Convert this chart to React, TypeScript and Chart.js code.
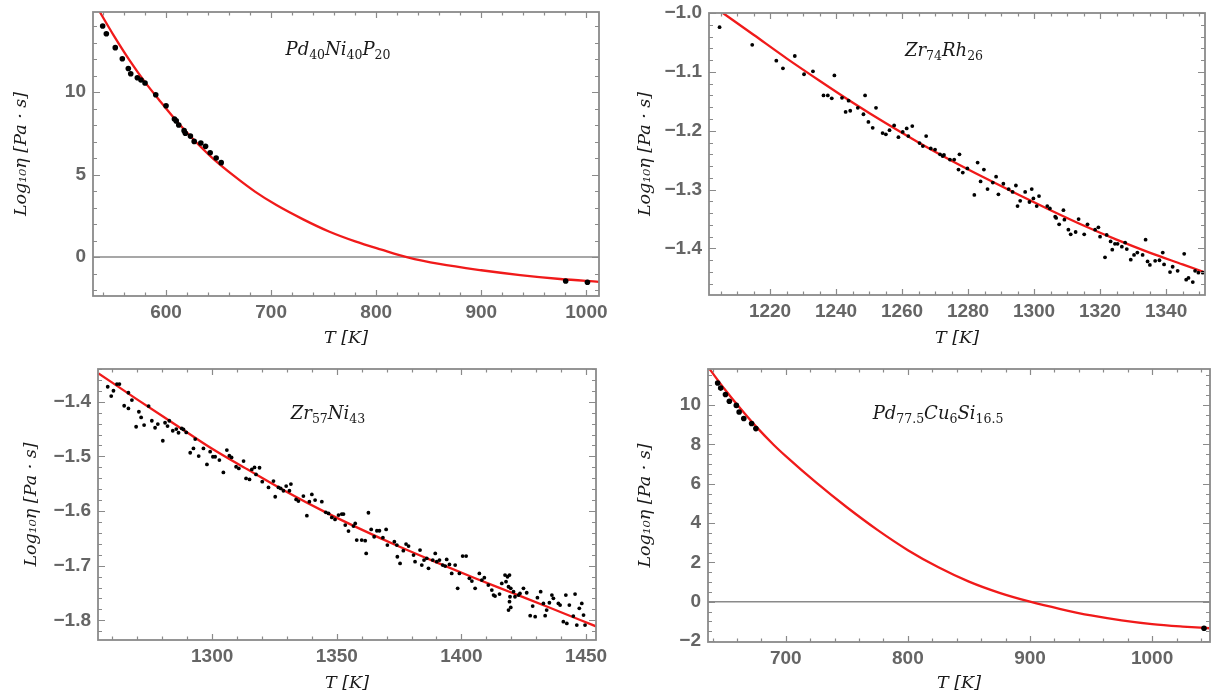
import React, { useEffect, useRef } from 'react';
import { Chart, registerables } from 'chart.js';

Chart.register(...registerables);

// ---------------- Panel 1: Pd40Ni40P20 ----------------
const P1_T = [539.7, 543.2, 551.7, 558.4, 564.1, 566.4, 572.7, 576.2, 580.0, 590.2, 600.0, 608.0, 609.7, 612.1, 617.2, 618.4, 623.2, 626.8, 633.1, 637.6, 642.0, 647.7, 652.5, 980.3, 1001.0];
const P1_LOGETA = [14.0, 13.53, 12.69, 12.02, 11.43, 11.11, 10.87, 10.73, 10.55, 9.84, 9.17, 8.36, 8.25, 8.0, 7.66, 7.5, 7.33, 7.01, 6.91, 6.71, 6.32, 6.0, 5.72, -1.45, -1.53];
const P1_FIT_T = [537, 550, 565, 580, 595, 610, 625, 645, 665, 685, 705, 730, 755, 780, 805, 830, 860, 900, 937, 975, 1012];
const P1_FIT_LOGETA = [14.85, 13.45, 11.95, 10.6, 9.4, 8.25, 7.2, 5.95, 4.9, 3.95, 3.15, 2.3, 1.55, 0.95, 0.45, -0.02, -0.42, -0.8, -1.09, -1.33, -1.5];
const P1_X_TICKS = [600, 700, 800, 900, 1000];
const P1_Y_TICKS = [0, 5, 10];

// ---------------- Panel 2: Zr74Rh26 ----------------
const P2_T = [1204.7, 1214.6, 1221.9, 1223.9, 1227.5, 1230.3, 1233.0, 1236.2, 1237.5, 1238.7, 1239.5, 1241.8, 1242.9, 1243.8, 1244.3, 1246.6, 1248.3, 1248.8, 1249.8, 1251.1, 1252.1,
  1254.1, 1255.1, 1256.2, 1257.6, 1258.9, 1260.2, 1261.4, 1261.9, 1263.1, 1265.3, 1266.3, 1267.3, 1268.7, 1270.0, 1271.5, 1272.7, 1272.3, 1274.5, 1275.8, 1277.4, 1277.1, 1278.4, 1279.8,
  1281.9, 1282.9, 1283.8, 1284.8, 1285.9, 1287.5, 1288.5, 1289.2, 1290.7, 1292.3, 1293.5, 1294.5, 1295.0, 1295.8, 1297.3, 1298.6, 1299.3, 1299.8, 1301.5, 1300.8, 1304.0, 1304.8,
  1306.4, 1306.7, 1307.6, 1308.9, 1309.2, 1310.4, 1311.1, 1312.6, 1313.5, 1315.2, 1316.2, 1318.5, 1319.5, 1320.0, 1321.5, 1322.0, 1323.2, 1323.7, 1324.5, 1325.3, 1326.6, 1327.6,
  1328.1, 1329.3, 1330.3, 1331.3, 1332.9, 1333.8, 1334.4, 1335.1, 1336.7, 1338.0, 1339.0, 1339.4, 1341.2, 1342.0, 1343.5, 1345.5, 1346.1, 1346.8, 1348.1, 1348.8, 1349.8, 1351.1];
const P2_LOGETA = [-1.024, -1.054, -1.081, -1.094, -1.073, -1.104, -1.099, -1.140, -1.140, -1.145, -1.106, -1.144, -1.168, -1.149, -1.166, -1.161, -1.172, -1.140, -1.185, -1.195, -1.161,
  -1.204, -1.206, -1.199, -1.191, -1.211, -1.202, -1.196, -1.209, -1.192, -1.221, -1.226, -1.209, -1.230, -1.232, -1.240, -1.241, -1.243, -1.249, -1.249, -1.240, -1.266, -1.271, -1.264,
  -1.309, -1.254, -1.286, -1.266, -1.299, -1.288, -1.278, -1.308, -1.290, -1.299, -1.304, -1.293, -1.328, -1.319, -1.304, -1.321, -1.299, -1.315, -1.311, -1.328, -1.328, -1.332,
  -1.346, -1.348, -1.359, -1.335, -1.351, -1.368, -1.376, -1.372, -1.350, -1.376, -1.359, -1.368, -1.364, -1.380, -1.415, -1.377, -1.388, -1.402, -1.392, -1.392, -1.397, -1.390,
  -1.401, -1.419, -1.411, -1.407, -1.411, -1.385, -1.422, -1.428, -1.421, -1.420, -1.407, -1.427, -1.440, -1.431, -1.438, -1.409, -1.453, -1.450, -1.457, -1.438, -1.441, -1.441];
const P2_FIT_T = [1205.7, 1215, 1225, 1235, 1245, 1255, 1265, 1275, 1285, 1295, 1305, 1315, 1325, 1335, 1345, 1352];
const P2_FIT_LOGETA = [-1.0, -1.037, -1.077, -1.115, -1.152, -1.187, -1.22, -1.251, -1.28, -1.308, -1.335, -1.361, -1.385, -1.407, -1.427, -1.441];
const P2_X_TICKS = [1220, 1240, 1260, 1280, 1300, 1320, 1340];
const P2_Y_TICKS = [-1.4, -1.3, -1.2, -1.1, -1.0];

// ---------------- Panel 3: Zr57Ni43 ----------------
const P3_T = [1258.1, 1259.5, 1260.4, 1261.8, 1262.8, 1264.7, 1266.4, 1266.4, 1267.8, 1269.5, 1270.6, 1271.5, 1272.7, 1274.5, 1275.8, 1277.1, 1278.2, 1280.2, 1281.1, 1282.1, 1282.8,
  1284.2, 1285.6, 1286.5, 1287.8, 1288.5, 1289.6, 1291.2, 1292.5, 1293.2, 1294.6, 1296.5, 1297.9, 1299.2, 1300.3, 1301.2, 1302.9, 1304.5, 1305.9, 1306.9, 1307.8, 1309.6, 1310.7,
  1312.6, 1313.6, 1315.0, 1315.9, 1317.0, 1317.6, 1319.0, 1320.1, 1322.6, 1324.6, 1325.3, 1326.6, 1327.5, 1328.6, 1329.7, 1331.0, 1331.6, 1333.7, 1334.6, 1336.6, 1338.0, 1339.0,
  1340.0, 1341.3, 1344.0, 1345.6, 1346.7, 1348.0, 1349.3, 1350.7, 1352.0, 1352.7,
  1353.4, 1354.7, 1356.7, 1357.4, 1358.0, 1360.0, 1361.4, 1361.8, 1362.7, 1363.8, 1365.0, 1366.1, 1367.1, 1368.5, 1369.8, 1370.3, 1373.1, 1374.1, 1374.3, 1375.4, 1376.7, 1377.8,
  1378.8, 1380.8, 1381.4, 1383.4, 1384.1, 1385.0, 1386.1, 1386.8, 1388.5, 1389.5, 1390.1, 1391.2, 1392.5, 1393.5, 1394.1, 1395.2, 1396.1, 1397.5, 1398.5, 1399.2, 1400.5, 1401.9,
  1403.2, 1404.2, 1405.5, 1407.2, 1408.2, 1409.2, 1410.8, 1412.2, 1412.9, 1413.5, 1415.3, 1416.2, 1417.5, 1417.9, 1418.5, 1418.9, 1419.3, 1419.8, 1419.5, 1419.3, 1418.9, 1419.8,
  1420.9, 1421.5, 1422.9, 1423.5, 1424.9, 1426.2, 1427.6, 1428.6, 1429.6, 1430.5, 1431.8, 1432.9, 1433.6, 1434.2, 1435.3, 1436.3, 1436.9, 1438.9, 1439.6, 1440.9, 1441.9, 1442.3,
  1443.3, 1444.9, 1445.6, 1446.3, 1447.3, 1448.3, 1449.0, 1449.6];
const P3_LOGETA = [-1.3725, -1.3896, -1.3798, -1.3676, -1.3676, -1.4073, -1.4121, -1.3835, -1.3969, -1.4457, -1.4182, -1.4286, -1.4426, -1.4079, -1.4347, -1.4475, -1.4408, -1.4713, -1.4384, -1.4445, -1.4347,
  -1.453, -1.45, -1.4567, -1.4487, -1.4506, -1.4561, -1.4933, -1.4853, -1.4683, -1.4994, -1.4853, -1.5146, -1.4914, -1.5006, -1.5006, -1.5067, -1.5293, -1.4884, -1.4988, -1.5018, -1.5189, -1.5219,
  -1.5085, -1.5402, -1.5421, -1.5238, -1.5201, -1.5329, -1.5207, -1.5463, -1.5567, -1.5451, -1.5738, -1.5567, -1.5585, -1.5628, -1.5543, -1.5628, -1.5506, -1.5787, -1.5817, -1.5726, -1.6085, -1.5829,
  -1.5695, -1.5799, -1.5829, -1.6024, -1.6043, -1.6116, -1.6153, -1.6073, -1.6055, -1.6055,
  -1.6256, -1.6366, -1.6275, -1.6226, -1.6531, -1.6531, -1.6543, -1.6775, -1.6031, -1.6336, -1.647, -1.636, -1.636, -1.6488, -1.6336, -1.6622, -1.6561, -1.6622, -1.6836, -1.6958, -1.6726, -1.6604,
  -1.6641, -1.6805, -1.6927, -1.6714, -1.6988, -1.6897, -1.6866, -1.7049, -1.6897, -1.6775, -1.6927, -1.6897, -1.6988, -1.7007, -1.6885, -1.6976, -1.7141, -1.6988, -1.7415, -1.7141, -1.6824, -1.6824,
  -1.7232, -1.7281, -1.7415, -1.7141, -1.7263, -1.722, -1.7354, -1.7446, -1.7537, -1.7556, -1.7519, -1.7324, -1.7171, -1.7293, -1.7202, -1.7385, -1.7171, -1.7415, -1.7568, -1.7659, -1.7812, -1.7763,
  -1.7476, -1.7568, -1.7537, -1.7507, -1.7415, -1.7495, -1.7915, -1.7739, -1.7934, -1.7586, -1.7476, -1.769, -1.7915, -1.7812, -1.7678, -1.7537, -1.7598, -1.769, -1.772, -1.8025, -1.7537, -1.8056,
  -1.772, -1.7922, -1.7519, -1.8086, -1.7781, -1.769, -1.7903, -1.8086];
const P3_FIT_T = [1254.4, 1270, 1285, 1300, 1315, 1330, 1345, 1360, 1375, 1390, 1405, 1420, 1435, 1454];
const P3_FIT_LOGETA = [-1.348, -1.396, -1.441, -1.486, -1.526, -1.565, -1.601, -1.634, -1.665, -1.694, -1.722, -1.749, -1.776, -1.811];
const P3_X_TICKS = [1300, 1350, 1400, 1450];
const P3_Y_TICKS = [-1.8, -1.7, -1.6, -1.5, -1.4];

// ---------------- Panel 4: Pd77.5Cu6Si16.5 ----------------
const P4_T = [644.2, 646.7, 650.6, 653.8, 659.5, 661.8, 665.6, 672.0, 675.5, 1042.5];
const P4_LOGETA = [11.12, 10.86, 10.53, 10.19, 9.98, 9.64, 9.31, 9.06, 8.8, -1.35];
const P4_FIT_T = [637.8, 650, 662, 675, 690, 700, 725, 750, 775, 800, 825, 850, 875, 900, 925, 950, 975, 1000, 1025, 1047];
const P4_FIT_LOGETA = [11.81, 10.8, 9.88, 8.95, 7.98, 7.4, 6.05, 4.8, 3.65, 2.62, 1.75, 1.02, 0.45, 0.0, -0.375, -0.7, -0.95, -1.14, -1.265, -1.35];
const P4_X_TICKS = [700, 800, 900, 1000];
const P4_Y_TICKS = [-2, 0, 2, 4, 6, 8, 10];

// ---------------- Text ----------------
type Seg = { t: string; sub?: boolean };
const P1_NAME: Seg[] = [{ t: 'Pd' }, { t: '40', sub: true }, { t: 'Ni' }, { t: '40', sub: true }, { t: 'P' }, { t: '20', sub: true }];
const P2_NAME: Seg[] = [{ t: 'Zr' }, { t: '74', sub: true }, { t: 'Rh' }, { t: '26', sub: true }];
const P3_NAME: Seg[] = [{ t: 'Zr' }, { t: '57', sub: true }, { t: 'Ni' }, { t: '43', sub: true }];
const P4_NAME: Seg[] = [{ t: 'Pd' }, { t: '77.5', sub: true }, { t: 'Cu' }, { t: '6', sub: true }, { t: 'Si' }, { t: '16.5', sub: true }];
const X_TITLE = 'T [K]';
const Y_TITLE = 'Log\u2081\u2080\u03B7 [Pa \u00B7 s]';

const SANS = "'Liberation Sans', Arial, sans-serif";
const SERIF = "'DejaVu Serif', 'Liberation Serif', serif";
const FRAME = '#8a8a8a';
const TICK_TEXT = '#656565';
const RED = '#f01a1a';

interface PanelDef {
  left: number; top: number; width: number; height: number;
  area: { l: number; t: number; r: number; b: number };
  xMin: number; xMax: number; yMin: number; yMax: number;
  xTicks: number[]; yTicks: number[]; xMinor: number; yMinor: number; yDec: number;
  T: number[]; Y: number[]; fitT: number[]; fitY: number[]; radius: number;
  name: Seg[]; nameX: number; nameY: number; yTitlePad: number; xTitlePad: number;
}

const PANELS: PanelDef[] = [
  {
    left: 0, top: 0, width: 610, height: 352, area: { l: 93, t: 12, r: 599, b: 296 },
    xMin: 530.5, xMax: 1012, yMin: -2.36, yMax: 14.85, xTicks: P1_X_TICKS, yTicks: P1_Y_TICKS, xMinor: 20, yMinor: 1, yDec: 0,
    T: P1_T, Y: P1_LOGETA, fitT: P1_FIT_T, fitY: P1_FIT_LOGETA, radius: 2.8,
    name: P1_NAME, nameX: 338, nameY: 55, yTitlePad: 11, xTitlePad: 3.5,
  },
  {
    left: 604, top: 0, width: 610, height: 352, area: { l: 105, t: 13, r: 601, b: 295 },
    xMin: 1201.5, xMax: 1351.8, yMin: -1.479, yMax: -1.0, xTicks: P2_X_TICKS, yTicks: P2_Y_TICKS, xMinor: 5, yMinor: 0.02, yDec: 1,
    T: P2_T, Y: P2_LOGETA, fitT: P2_FIT_T, fitY: P2_FIT_LOGETA, radius: 1.9,
    name: P2_NAME, nameX: 340, nameY: 56, yTitlePad: 30.5, xTitlePad: 3.5,
  },
  {
    left: 0, top: 348, width: 610, height: 350, area: { l: 98, t: 21, r: 596, b: 292 },
    xMin: 1254.2, xMax: 1454, yMin: -1.836, yMax: -1.34, xTicks: P3_X_TICKS, yTicks: P3_Y_TICKS, xMinor: 10, yMinor: 0.02, yDec: 1,
    T: P3_T, Y: P3_LOGETA, fitT: P3_FIT_T, fitY: P3_FIT_LOGETA, radius: 1.9,
    name: P3_NAME, nameX: 328, nameY: 71, yTitlePad: 20.5, xTitlePad: 4.5,
  },
  {
    left: 604, top: 348, width: 610, height: 350, area: { l: 104, t: 21, r: 607, b: 294 },
    xMin: 636.3, xMax: 1047.4, yMin: -2.05, yMax: 11.83, xTicks: P4_X_TICKS, yTicks: P4_Y_TICKS, xMinor: 20, yMinor: 0.5, yDec: 0,
    T: P4_T, Y: P4_LOGETA, fitT: P4_FIT_T, fitY: P4_FIT_LOGETA, radius: 2.8,
    name: P4_NAME, nameX: 334, nameY: 71, yTitlePad: 30.5, xTitlePad: 4.5,
  },
];

function drawRich(ctx: CanvasRenderingContext2D, segs: Seg[], cx: number, baseY: number) {
  const main = `italic 18px ${SERIF}`;
  const sub = `12.5px ${SERIF}`;
  let total = 0;
  const widths = segs.map((s) => {
    ctx.font = s.sub ? sub : main;
    const w = ctx.measureText(s.t).width;
    total += w;
    return w;
  });
  let x = cx - total / 2;
  ctx.fillStyle = '#1a1a1a';
  ctx.textBaseline = 'alphabetic';
  ctx.textAlign = 'left';
  segs.forEach((s, i) => {
    ctx.font = s.sub ? sub : main;
    ctx.fillText(s.t, x, s.sub ? baseY + 4 : baseY);
    x += widths[i];
  });
}

function stepValues(min: number, max: number, step: number): number[] {
  const out: number[] = [];
  const k0 = Math.ceil(min / step - 1e-9);
  for (let k = k0; k * step <= max + 1e-9; k++) out.push(k * step);
  return out;
}

const framePlugin = {
  id: 'mmaFrame',
  beforeDatasetsDraw(chart: any) {
    const { ctx, chartArea: ca, scales } = chart;
    const y = scales.y;
    if (y.min <= 0 && y.max >= 0) {
      const py = y.getPixelForValue(0);
      ctx.save();
      ctx.strokeStyle = FRAME;
      ctx.lineWidth = 1.6;
      ctx.beginPath();
      ctx.moveTo(ca.left, py);
      ctx.lineTo(ca.right, py);
      ctx.stroke();
      ctx.restore();
    }
  },
  afterDraw(chart: any) {
    const { ctx, chartArea: ca, scales } = chart;
    const def: PanelDef = chart.options.plugins.mmaFrame.def;
    const x = scales.x;
    const y = scales.y;
    ctx.save();
    ctx.strokeStyle = FRAME;
    ctx.lineWidth = 1.2;
    ctx.beginPath();
    const xMaj = def.xTicks;
    stepValues(def.xMin, def.xMax, def.xMinor).forEach((v) => {
      const major = xMaj.some((m) => Math.abs(m - v) < 1e-6);
      const len = major ? 6 : 3.5;
      const px = Math.round(x.getPixelForValue(v)) + 0.5;
      ctx.moveTo(px, ca.bottom);
      ctx.lineTo(px, ca.bottom - len);
      ctx.moveTo(px, ca.top);
      ctx.lineTo(px, ca.top + len);
    });
    const yMaj = def.yTicks;
    stepValues(def.yMin, def.yMax, def.yMinor).forEach((v) => {
      const major = yMaj.some((m) => Math.abs(m - v) < 1e-6);
      const len = major ? 7 : 4;
      const py = Math.round(y.getPixelForValue(v)) + 0.5;
      ctx.moveTo(ca.left, py);
      ctx.lineTo(ca.left + len, py);
      ctx.moveTo(ca.right, py);
      ctx.lineTo(ca.right - len, py);
    });
    ctx.stroke();
    ctx.lineWidth = 1.8;
    ctx.strokeRect(ca.left, ca.top, ca.right - ca.left, ca.bottom - ca.top);
    drawRich(ctx, def.name, def.nameX, def.nameY);
    ctx.restore();
  },
};

function fmt(v: number, dec: number): string {
  return v.toFixed(dec).replace('-', '\u2212');
}

function makeConfig(def: PanelDef): any {
  const pts = def.T.map((t, i) => ({ x: t, y: def.Y[i] }));
  const fit = def.fitT.map((t, i) => ({ x: t, y: def.fitY[i] }));
  const tickFont = { family: SANS, size: 19, weight: 'bold' as const };
  const titleFont = { family: SERIF, size: 17.5, style: 'italic' as const };
  return {
    type: 'scatter',
    data: {
      datasets: [
        {
          label: 'measured',
          data: pts,
          showLine: false,
          pointRadius: def.radius,
          pointBorderWidth: 0,
          pointBackgroundColor: '#000',
          pointBorderColor: '#000',
        },
        {
          label: 'fit',
          data: fit,
          showLine: true,
          pointRadius: 0,
          borderColor: RED,
          borderWidth: 2.3,
          cubicInterpolationMode: 'monotone',
          fill: false,
        },
      ],
    },
    options: {
      animation: false,
      responsive: false,
      devicePixelRatio: 1,
      events: [],
      layout: { padding: { left: 0, top: def.area.t, right: def.width - def.area.r, bottom: 0 } },
      plugins: {
        legend: { display: false },
        tooltip: { enabled: false },
        mmaFrame: { def },
      },
      scales: {
        x: {
          type: 'linear',
          min: def.xMin,
          max: def.xMax,
          grid: { display: false, drawTicks: false },
          border: { display: false },
          afterBuildTicks: (s: any) => { s.ticks = def.xTicks.map((v) => ({ value: v })); },
          afterFit: (s: any) => { s.height = def.height - def.area.b; s.paddingLeft = 0; s.paddingRight = 0; },
          ticks: {
            font: tickFont, color: TICK_TEXT, padding: 5, maxRotation: 0, autoSkip: false,
            callback: (v: any) => fmt(Number(v), 0),
          },
          title: { display: true, text: X_TITLE, font: titleFont, color: '#1a1a1a', padding: { top: 0, bottom: def.xTitlePad } },
        },
        y: {
          type: 'linear',
          min: def.yMin,
          max: def.yMax,
          grid: { display: false, drawTicks: false },
          border: { display: false },
          afterBuildTicks: (s: any) => { s.ticks = def.yTicks.map((v) => ({ value: v })); },
          afterFit: (s: any) => { s.width = def.area.l; s.paddingTop = 0; s.paddingBottom = 0; },
          ticks: {
            font: tickFont, color: TICK_TEXT, padding: 7, autoSkip: false,
            callback: (v: any) => fmt(Number(v), def.yDec),
          },
          title: { display: true, text: Y_TITLE, font: titleFont, color: '#1a1a1a', padding: { top: def.yTitlePad, bottom: 0 } },
        },
      },
    },
    plugins: [framePlugin],
  };
}

function Panel({ def }: { def: PanelDef }) {
  const ref = useRef<HTMLCanvasElement>(null);
  useEffect(() => {
    const chart = new Chart(ref.current as HTMLCanvasElement, makeConfig(def));
    return () => chart.destroy();
  }, [def]);
  return (
    <canvas
      ref={ref}
      width={def.width}
      height={def.height}
      style={{ position: 'absolute', left: def.left, top: def.top, width: def.width, height: def.height }}
    />
  );
}

export default function App() {
  return (
    <div style={{ position: 'absolute', left: 0, top: 0, width: 1214, height: 698, background: '#fff', overflow: 'hidden' }}>
      {PANELS.map((d, i) => (
        <Panel key={i} def={d} />
      ))}
    </div>
  );
}
